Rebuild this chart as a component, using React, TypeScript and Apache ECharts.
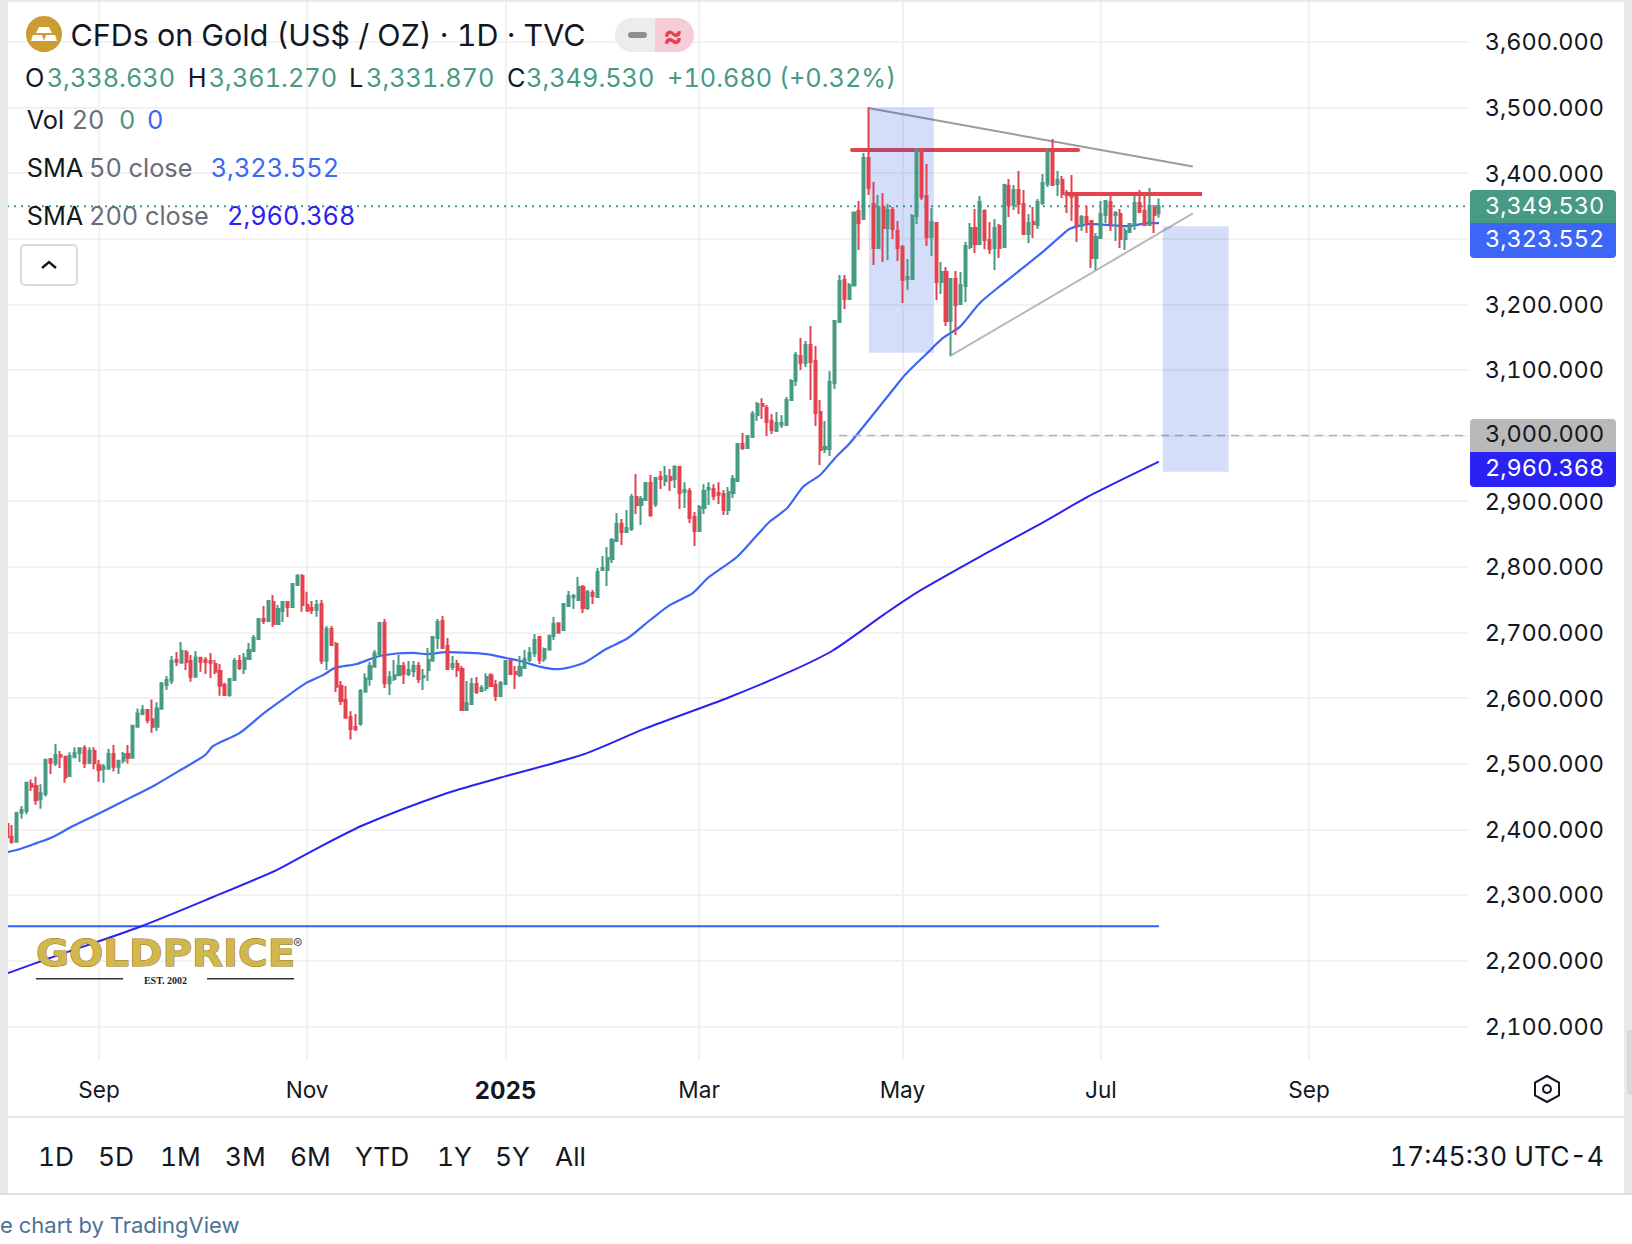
import React, { useEffect, useRef } from "react";
import * as echarts from "echarts";

const opens = [
2408,2388.9,2381,2425.4,2428,2469,2466,2445.8,2453.9,2507,
2500.6,2513.3,2510.8,2481.3,2509.8,2515.8,2523.5,2501.6,2519.4,2497.6,
2492,2492.5,2514.8,2495.5,2504.7,2514.7,2509,2556.4,2575.7,2581.8,
2567.6,2556.4,2583.8,2619.9,2626.5,2658,2654,2669.7,2656.5,2632.6,
2661.6,2658,2656.5,2651.9,2641.2,2619.9,2604.7,2627.5,2656.5,2644.3,
2659.5,2671.7,2690,2720.5,2717.4,2746.4,2712.9,2732.7,2746.4,2738.8,
2772.3,2786,2741.9,2737.3,2734.2,2743.4,2657,2705.3,2682.4,2618.4,
2597,2571,2556,2561,2609.8,2629,2647.9,2667.2,2714.4,2622.5,
2629,2635,2649,2636.7,2641.3,2648.9,2631.6,2642.8,2657,2691.6,
2717.5,2679.4,2647.4,2652,2644.3,2581.9,2591,2621.5,2610.8,2615.4,
2635,2620,2603.2,2621.5,2656.5,2639.8,2634.7,2645.9,2658,2668.2,
2693,2660,2674,2694.6,2713.9,2703.7,2740.3,2753.5,2749.4,2769.2,
2737.3,2760,2754,2795,2795,2811.9,2839.3,2865.3,2853,2857.6,
2906.4,2894.2,2901.8,2927.7,2895.7,2936.9,2930.8,2936.9,2933.8,2952,
2914,2915.5,2875.9,2854.6,2889.6,2918,2918.6,2912.5,2911,2886.6,
2912.5,2930.8,2987.1,2981,2997.8,3031.3,3048.1,3042,3022.2,3007,
3016.6,3016,3054.2,3083.7,3121.3,3111,3138,3113.7,3036,2979.6,
2979.6,3080,3173,3237,3208,3228.5,3342,3330.5,3423,3352.9,
3285.8,3348.3,3316.3,3343.8,3311.8,3287.4,3238.6,3238.6,3334.6,3436.2,
3365,3302.6,3324,3234,3249.3,3174.6,3238.6,3200.5,3228,3287.4,
3316.3,3292,3342,3298,3285.9,3319.4,3287.4,3380.3,3351.4,3374.2,
3352.9,3307.2,3325.5,3320.9,3354.4,3383.4,3432.1,3383.4,3389.5,3369.7,
3368,3365,3319.4,3333,3327,3270.6,3301,3336,3356,3336,
3337.7,3299.6,3310.2,3320.9,3354.4,3342.2,3320.9,3346.8,3338.63,
];
const closes = [
2388,2381,2424.4,2429.5,2471,2465,2444.7,2455,2505.7,2501.6,
2513.3,2510.8,2479,2511.8,2515.8,2523.5,2500.6,2519.4,2500.6,2490.5,
2495.5,2514.8,2495.5,2504.7,2514.8,2509,2557.9,2576.7,2581.8,2566.6,
2556.4,2584.3,2622.4,2627.5,2656.5,2655.5,2672.2,2655,2632.6,2662,
2655.5,2655,2654,2640.2,2618.9,2604.7,2629,2656.5,2645.8,2661,
2673.2,2691.5,2720.5,2717.4,2747.9,2712.9,2735.7,2746.4,2738.8,2773.8,
2786,2741.9,2733.2,2734.2,2741.9,2657,2705.3,2680.9,2617.4,2595.6,
2570.2,2553,2553,2611,2630,2648.9,2668.2,2714.4,2622.5,2631.6,
2635,2649,2636.7,2642.8,2648.9,2629,2633.7,2658,2693.1,2716,
2676.3,2644.3,2652,2642.8,2581.9,2592.5,2621.5,2609.3,2615.4,2632,
2618.4,2603.2,2623,2656.5,2636.7,2636.7,2647.4,2659.6,2668.7,2688.5,
2658,2675,2695,2712.9,2699.7,2743.4,2755.5,2755.5,2769.2,2737.3,
2761.6,2755.5,2792,2798.2,2813.4,2840.9,2865.3,2853,2859.2,2906.4,
2894.2,2903.3,2927.7,2879,2935.3,2933.8,2938.4,2932.3,2952,2912.5,
2917,2874.4,2854.6,2891.2,2915.5,2920,2907.9,2910,2886.6,2914,
2933.8,2987.1,2981,2999.3,3032.9,3048.1,3045,3020.7,3008.5,3019.1,
3019.1,3054.2,3083.1,3122.8,3111,3138,3112,3034.4,2978,2982.6,
3081.7,3174.6,3235.6,3208,3229.5,3339.7,3324,3423,3377.3,3285.8,
3348.3,3316.3,3343.8,3314.8,3285.8,3237,3241.7,3334.6,3436.2,3363.6,
3302.6,3325.5,3234,3249.3,3174.6,3238.6,3199,3229.5,3289,3316.3,
3292,3356,3298,3284.3,3316.3,3285.9,3381.9,3351.4,3374.2,3352.9,
3307.2,3324,3322.4,3356,3384.9,3432.1,3381.9,3389.5,3368,3366.6,
3364,3321,3333,3325.5,3270.6,3302.6,3337.7,3357.5,3324,3339,
3299.6,3311.8,3322.4,3354.4,3340.7,3320.9,3349.8,3336,3349.53,
];
const lows = [
2388,2378,2381,2416.3,2423,2458.5,2437.6,2431.5,2450,2484.4,
2496.5,2493.5,2471,2481.3,2508.8,2502.6,2493.5,2499.6,2491.5,2472.7,
2471,2492.5,2488,2484.4,2500.6,2500.5,2509,2556.4,2574,2561.5,
2547.3,2550,2583.8,2612.3,2621.4,2648.9,2654,2642.8,2625,2632.6,
2640.2,2636.7,2630.6,2636.7,2603.6,2604.7,2602.1,2627.5,2642.8,2636.7,
2659.5,2671.7,2690,2712.9,2717.4,2708.3,2712.9,2715.9,2723.5,2738.8,
2770.8,2731.7,2733.2,2728,2724,2652,2642.8,2679.4,2609.3,2589.5,
2570.2,2537,2550,2558,2609.8,2619,2647.9,2667.2,2615.4,2604.7,
2626,2633.7,2621.5,2633.7,2632,2623,2612.3,2626,2657,2674.8,
2674.8,2644.3,2642.8,2632,2581.9,2581.9,2589.5,2606.3,2609.3,2610.8,
2618.4,2595.6,2601.7,2621.5,2636.7,2613.9,2632,2644.3,2655,2662.6,
2652,2655,2672,2688.5,2699.7,2702.2,2740.3,2735.7,2749.4,2729.6,
2734.2,2743.4,2754,2795,2770.8,2805.8,2839.3,2833.2,2851.5,2854.6,
2880.5,2863.7,2900.3,2875.9,2891.2,2918.6,2923.2,2915.5,2920,2888,
2889.6,2866.8,2831.7,2854.6,2880.5,2894.2,2901.8,2895.7,2879,2879,
2904.9,2930.8,2978,2981,2997.8,3022.2,3025.2,2999.3,3002.4,3007,
3011.5,3016,3054.2,3075.6,3100,3104.5,3054.2,3014.6,2955.2,2973.5,
2968.9,3071,3173,3192.9,3208,3228.5,3282.8,3328.5,3366.6,3260,
3285.8,3264.5,3267.6,3299.6,3266,3202,3222,3237,3322.4,3359,
3289,3273.7,3206.6,3215.8,3167,3122,3153.3,3200.5,3203.6,3284.3,
3278.2,3290,3284,3276.7,3252.3,3270.6,3287.4,3333,3343.8,3337.7,
3307.2,3293.5,3301,3314.8,3351.4,3378.8,3381.9,3365,3362,3339.2,
3327,3295,3311.8,3308.7,3255.4,3252.3,3301,3324,3311.8,3296.5,
3285.9,3282.8,3310.2,3313.3,3340.7,3319.4,3319.4,3308.7,3331.87,
];
const highs = [
2408,2406.6,2427,2435.6,2472.7,2476,2480,2468.6,2508,2508.7,
2530,2519.4,2511.8,2517.4,2525,2525,2528,2525,2525,2505.7,
2499.6,2522.5,2528.5,2505.7,2517.9,2528.5,2559,2584.3,2589.4,2582.8,
2598,2593.5,2624.5,2633.6,2664,2670.2,2685.4,2673.2,2665.6,2671.7,
2662.6,2662.6,2668.7,2658,2651.9,2623.5,2630.6,2661,2665.6,2668.7,
2683.9,2696,2722,2740.3,2747.9,2757,2741.8,2746.4,2746.4,2773.8,
2789,2789,2762,2748,2749.5,2749.5,2709.9,2709.9,2685.5,2626,
2618.4,2580,2575.8,2614,2637.7,2655,2673.3,2714.4,2720.5,2641.3,
2658,2665.7,2655,2656.5,2656.5,2655,2644.3,2676.3,2694.6,2720.5,
2725,2691.6,2664,2658,2648.9,2626,2630.6,2632,2620,2638,
2638,2627.6,2626,2658,2658,2648.9,2664,2673.3,2677.9,2697.7,
2693,2677,2696.5,2723.5,2715.4,2744.9,2763.2,2758.6,2784.5,2772.3,
2764.7,2764.7,2798.2,2816.5,2830.2,2844,2882,2872.9,2886.6,2911,
2941.4,2907.9,2929.2,2939.9,2936.9,2946,2953.6,2949,2955,2952,
2929,2920,2883.5,2894.2,2926,2929,2926,2929,2917,2921.6,
2939.9,2988.7,3003.9,3000.9,3037.4,3051,3057,3046.6,3032.9,3035.9,
3031.3,3058.8,3086.2,3127.4,3148.7,3144,3167,3136.5,3054.2,3022.2,
3098.4,3176,3244.7,3244.7,3232.5,3341.2,3357.5,3430.6,3500.2,3386.4,
3366.6,3369.7,3352.9,3348.3,3327,3290.4,3269,3337.7,3436.2,3437.7,
3413.8,3346.8,3325.5,3264.5,3256.9,3240,3250.8,3249.3,3295,3324,
3345.3,3365,3345,3325.5,3330,3322.4,3381.9,3391,3381.9,3403.2,
3374.2,3337.7,3348.3,3360.5,3398.6,3438.2,3451.9,3403.2,3395.6,3374.2,
3397,3368,3336,3349.8,3327,3308.7,3357.5,3359,3365,3342,
3345.3,3316.3,3322.4,3368,3374.2,3365,3377.3,3351.4,3361.27,
];

const sma50 = [
[0.2,2365.5],[2.7,2370],[6.1,2379],[9.5,2388.4],[13.6,2405],[19.2,2425],[25.4,2448],[29.5,2463],[36.1,2491.5],[40.9,2513],
[42.6,2527],[48.1,2547],[52.9,2576],[56.8,2597],[61.9,2623.5],[65.3,2635],[67.8,2646],[72.3,2652],[76.4,2663],[80.5,2668],
[83.9,2669],[86.7,2667],[90.8,2670],[95.7,2669],[99.1,2667],[102.5,2662],[106,2656.5],[110.1,2648],[113.6,2644],[119,2653],
[123.6,2674],[128.3,2691.6],[132.9,2719],[137,2742],[141.7,2760],[144.8,2783],[150.8,2815],[155,2848.5],[157.6,2869],[161.2,2889.6],
[164.5,2922],[168,2940],[171.1,2966],[174.2,2989],[183.5,3074],[185.6,3093],[189.9,3124],[193.4,3148.7],[196.9,3166],[201,3202],
[205.2,3228],[209.3,3252],[214,3280],[217.6,3303],[219.6,3315],[223.8,3322.4],[227.2,3321],[231.3,3319],[236.2,3324],[238,3323.55],
];
const sma200 = [
[0.2,2181],[8.9,2204],[27.5,2251.7],[42.6,2297],[55.7,2338],[63,2367],[73.8,2407],[91,2455.4],[103.9,2482.8],[119,2514],
[131.8,2553.5],[149.1,2601],[162,2641],[170.6,2672.5],[181.3,2728],[187.8,2760],[202.9,2823],[213.6,2866],[224.4,2911],[238,2960.37],
];
const flatLevel = [[0,2252.3],[238,2252.3]];
const lastClose = 3349.53;
const roundLevel = 3000;
const upperTrend = [[177.9,3499],[245,3410]];
const lowerTrend = [[194.8,3121],[245,3338.5]];
const resistanceA = [[174.6,3435],[221.3,3435]];
const resistanceB = [[219.4,3368],[246.9,3368]];
const zones = [[178.1,3500,191.5,3126],[238.8,3319,252.4,2945]];

const slotCount = 303;
const xTickIndex = [19,62,103,143,185,226,269];
const xTickLabels = ["Sep","Nov","2025","Mar","May","Jul","Sep"];
const yTicks = [2100,2200,2300,2400,2500,2600,2700,2800,2900,3000,3100,3200,3300,3400,3500,3600];
const yHidden = [3000,3300];
const rangeTabs = ["1D","5D","1M","3M","6M","YTD","1Y","5Y","All"];
const rangeTabX = [38,98,160,225,290,355,437,495,555];

const GREEN = "#479a83";
const RED = "#e2434e";
const BLUE = "#3b66f6";
const NAVY = "#2a22f2";
const INK = "#131722";
const GREY = "#6a6d78";
const FONT = "Inter, 'Noto Sans', sans-serif";

const lineS = (data: number[][], color: string, width: number, z: number, type: any = "solid", cap = "butt", smooth: any = false) => ({
  type: "line",
  xAxisIndex: 1,
  data,
  symbol: "none",
  z,
  silent: true,
  smooth,
  lineStyle: { color, width, type, cap },
  itemStyle: { color },
});

const T = (x: number, y: number, text: string, fill: string, size = 25.3, extra: any = {}) => ({
  type: "text",
  z: 120,
  silent: true,
  style: { x, y, text, fill, fontFamily: FONT, fontSize: size, verticalAlign: "middle", align: "left", ...extra },
});

const R = (x: number, y: number, w: number, h: number, fill: string, r: any = 0, z = 110, extra: any = {}) => ({
  type: "rect",
  z,
  silent: true,
  shape: { x, y, width: w, height: h, r },
  style: { fill, ...extra },
});

export default function App() {
  const ref = useRef<HTMLDivElement>(null);
  useEffect(() => {
    const chart = echarts.init(ref.current!, undefined, { renderer: "svg" });
    const categories = Array.from({ length: slotCount }, (_, i) => {
      const k = xTickIndex.indexOf(i);
      return k >= 0 ? xTickLabels[k] : String(i);
    });
    const candle = opens.map((o, i) => [o, closes[i], lows[i], highs[i]]);
    const isTick = (i: number) => xTickIndex.indexOf(i) >= 0;

    chart.setOption({
      animation: false,
      backgroundColor: "#ffffff",
      textStyle: { fontFamily: FONT },
      grid: { left: 7, top: 2, width: 1461.7, height: 1058, containLabel: false },
      xAxis: [
        {
          type: "category",
          data: categories,
          boundaryGap: false,
          axisLine: { show: false },
          axisTick: { show: false },
          splitLine: { show: true, interval: (i: number) => isTick(i), lineStyle: { color: "#f2f2f2", width: 2 } },
          axisLabel: {
            interval: (i: number) => isTick(i),
            margin: 18,
            color: INK,
            fontSize: 22.6,
            fontFamily: FONT,
            formatter: (v: string) => (v === "2025" ? "{b|2025}" : v),
            rich: { b: { fontWeight: "bold", fontSize: 24, color: INK, fontFamily: FONT } },
          },
        },
        { type: "value", show: false, min: 0, max: slotCount - 1 },
      ],
      yAxis: {
        type: "value",
        position: "right",
        min: 2048.6,
        max: 3660.6,
        axisLine: { show: false },
        axisTick: { show: false, customValues: yTicks },
        splitLine: { show: true, lineStyle: { color: "#f2f2f2", width: 2 } },
        axisLabel: {
          customValues: yTicks,
          margin: 16,
          padding: [0, 0, 8, 0],
          color: INK,
          fontSize: 23.5,
          fontFamily: FONT,
          formatter: (v: number) =>
            yHidden.indexOf(v) >= 0 ? "" : v.toLocaleString("en-US", { minimumFractionDigits: 3, maximumFractionDigits: 3 }),
        },
      },
      series: [
        lineS(flatLevel, "#2f62f5", 2, 2),
        lineS(sma200, NAVY, 2, 2, "solid", "butt", 0.25),
        lineS(sma50, BLUE, 2.2, 2, "solid", "butt", 0.25),
        lineS(upperTrend, "#9b9b9b", 2, 2),
        lineS(lowerTrend, "#b8b8b8", 2, 2),
        lineS(resistanceA, RED, 4, 2, "solid", "round"),
        lineS([[0, lastClose], [slotCount - 1, lastClose]], GREEN, 2, 2, [2, 5]),
        lineS([[171.9, roundLevel], [slotCount - 1, roundLevel]], "#aeaeae", 1.5, 2, [8, 6]),
        {
          type: "custom",
          xAxisIndex: 1,
          z: 3,
          silent: true,
          data: zones,
          renderItem: (_: any, api: any) => {
            const a = api.coord([api.value(0), api.value(1)]);
            const b = api.coord([api.value(2), api.value(3)]);
            return {
              type: "rect",
              shape: { x: a[0], y: a[1], width: b[0] - a[0], height: b[1] - a[1] },
              style: { fill: "rgba(41,85,230,0.2)" },
            };
          },
        },
        {
          type: "candlestick",
          xAxisIndex: 0,
          z: 4,
          silent: true,
          barWidth: 2.6,
          data: candle,
          itemStyle: { color: GREEN, color0: RED, borderColor: GREEN, borderColor0: RED, borderWidth: 2 },
        },
        lineS(resistanceB, RED, 4, 5),
      ],
      graphic: [
        // frame
        R(0, 0, 8, 1195, "#e9e9e9"),
        R(1624, 0, 8, 1195, "#e9e9e9"),
        R(1627, 1030, 5, 65, "#d9d9d9", [3, 0, 0, 3], 111),
        R(0, 0, 1632, 2, "#e9e9e9"),
        R(8, 1116, 1616, 2, "#e8e8e8"),
        R(0, 1193, 1632, 2, "#e0e0e0"),
        // logo
        { type: "circle", z: 120, silent: true, shape: { cx: 44, cy: 34, r: 18 }, style: { fill: "#cc9c33" } },
        { type: "polygon", z: 121, silent: true, shape: { points: [[39,27],[49,27],[52,33],[36,33]] }, style: { fill: "#fff" } },
        { type: "polygon", z: 121, silent: true, shape: { points: [[33,35],[42,35],[44,41],[31,41]] }, style: { fill: "#fff" } },
        { type: "polygon", z: 121, silent: true, shape: { points: [[46,35],[55,35],[57,41],[44,41]] }, style: { fill: "#fff" } },
        T(70.5, 35, "CFDs on Gold (US$ / OZ) · 1D · TVC", INK, 30.45),
        // market-status pill
        { type: "rect", z: 120, silent: true, shape: { x: 615, y: 18, width: 40, height: 34, r: [17, 0, 0, 17] }, style: { fill: "#ececec" } },
        { type: "rect", z: 120, silent: true, shape: { x: 655, y: 18, width: 39, height: 34, r: [0, 17, 17, 0] }, style: { fill: "#f6ccd6" } },
        R(628, 32, 19, 6, "#8e8e8e", 3, 121),
        T(673, 35, "≈", RED, 30, { align: "center", fontWeight: "bold" }),
        // OHLC
        T(25, 77, "O", INK),
        T(46.7, 77, "3,338.630", GREEN),
        T(187.7, 77, "H", INK),
        T(208.7, 77, "3,361.270", GREEN),
        T(349, 77, "L", INK),
        T(366, 77, "3,331.870", GREEN),
        T(507, 77, "C", INK),
        T(526, 77, "3,349.530", GREEN),
        T(667, 77, "+10.680", GREEN),
        T(779, 77, "(+0.32%)", GREEN),
        // studies
        T(26.7, 119, "Vol", INK),
        T(71.7, 119, "20", GREY),
        T(119, 119, "0", GREEN),
        T(147, 119, "0", BLUE),
        T(26.7, 167, "SMA", INK),
        T(89, 167, "50 close", GREY),
        T(210.7, 167, "3,323.552", BLUE),
        T(26.7, 215, "SMA", INK),
        T(89, 215, "200 close", GREY),
        T(227, 215, "2,960.368", NAVY),
        // collapse button
        { type: "rect", z: 120, silent: true, shape: { x: 21, y: 245, width: 56, height: 40, r: 4 }, style: { fill: "#ffffff", stroke: "#d9d9d9", lineWidth: 2 } },
        { type: "polyline", z: 121, silent: true, shape: { points: [[42,268],[49,262],[56,268]] }, style: { fill: "none", stroke: INK, lineWidth: 2.4 } },
        // price tags
        R(1470, 190, 146, 33, GREEN, [4, 4, 0, 0]),
        T(1485, 205, "3,349.530", "#ffffff", 23.5),
        R(1470, 223, 146, 35, "#3b66f6", [0, 0, 4, 4]),
        T(1485, 238.5, "3,323.552", "#ffffff", 23.5),
        R(1470, 419, 146, 33, "#b9b9b9", [4, 4, 0, 0]),
        T(1485, 433.5, "3,000.000", INK, 23.5),
        R(1470, 452, 146, 35, NAVY, [0, 0, 4, 4]),
        T(1485, 467, "2,960.368", "#ffffff", 23.5),
        // watermark
        {
          type: "text", z: 120, silent: true, x: 36, y: 953, scaleX: 1.09,
          style: { x: 0, y: 0, text: "GOLDPRICE", fill: "#d2b74c", stroke: "#8f7420", lineWidth: 1, fontFamily: "'DejaVu Sans', sans-serif", fontWeight: "bold", fontSize: 37, verticalAlign: "middle" },
        },
        T(293, 943, "®", "#555555", 14),
        R(36, 978, 87, 1.5, "#333333"),
        R(207, 978, 87, 1.5, "#333333"),
        T(165.5, 980, "EST. 2002", "#222222", 10, { align: "center", fontFamily: "'Liberation Serif', serif", fontWeight: "bold" }),
        // hexagon
        { type: "polygon", z: 120, silent: true, shape: { points: [[1547,1076],[1559,1082.5],[1559,1095.5],[1547,1102],[1535,1095.5],[1535,1082.5]] }, style: { fill: "none", stroke: INK, lineWidth: 2 } },
        { type: "circle", z: 120, silent: true, shape: { cx: 1547, cy: 1089, r: 4 }, style: { fill: "none", stroke: INK, lineWidth: 2 } },
        // range tabs
        ...rangeTabs.map((t, i) => T(rangeTabX[i], 1156, t, INK, 26.3)),
        T(1604, 1156, "17:45:30 UTC-4", INK, 26.5, { align: "right" }),
        T(0, 1225, "e chart by TradingView", "#4b7396", 22),
      ],
    });
    return () => chart.dispose();
  }, []);
  return <div ref={ref} style={{ position: "fixed", left: 0, top: 0, width: 1632, height: 1244, fontFeatureSettings: '"tnum"' }} />;
}
